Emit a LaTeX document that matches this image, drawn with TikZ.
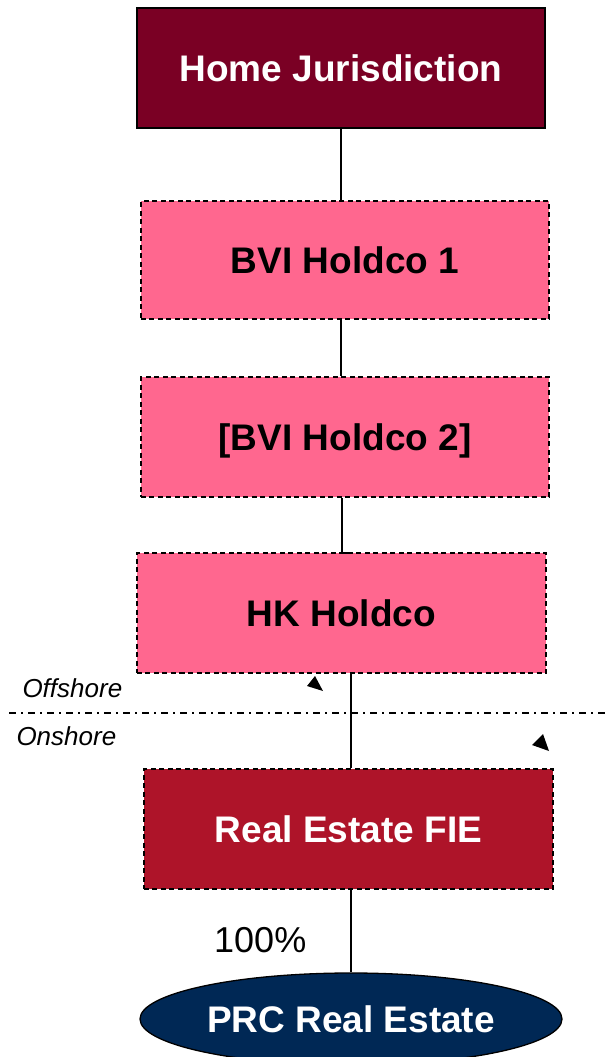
\documentclass[tikz,border=0pt]{standalone}
\usepackage{fontspec}
\setmainfont{Liberation Sans}
\usetikzlibrary{shapes.geometric}

\definecolor{homefill}{RGB}{122,0,36}
\definecolor{holdfill}{RGB}{255,103,143}
\definecolor{fiefill}{RGB}{174,20,41}
\definecolor{prcfill}{RGB}{0,40,85}

\tikzset{
  label font/.style={font=\fontsize{37bp}{44bp}\selectfont\bfseries},
  entity/.style={rectangle, inner sep=0pt, minimum width=409bp, minimum height=120bp,
    label font, text depth=0pt, text height=26.5bp},
  solidbox/.style={entity, draw=black, line width=2.2bp},
  dashbox/.style={entity, draw=black, line width=2bp, dash pattern=on 5bp off 3.5bp},
  link/.style={draw=black, line width=1.5bp},
  zone/.style={anchor=base west, font=\fontsize{26bp}{31bp}\selectfont\itshape},
  marker/.style={fill=black},
}

\begin{document}
\begin{tikzpicture}[x=1bp, y=-1bp]
  \useasboundingbox (0,0) rectangle (608,1057);
  \clip (0,0) rectangle (608,1057);

  % ownership chain
  \node[solidbox, fill=homefill, text=white, minimum width=408bp] (home) at (341,68) {Home Jurisdiction};
  \node[dashbox, fill=holdfill, minimum width=408bp, minimum height=118bp] (bvi1) at (345,260) {BVI Holdco 1};
  \node[dashbox, fill=holdfill, minimum width=408bp] (bvi2) at (345,437) {[BVI Holdco 2]};
  \node[dashbox, fill=holdfill] (hk) at (341.5,613) {HK Holdco};
  \node[dashbox, fill=fiefill, text=white] (fie) at (348.5,829) {Real Estate FIE};
  \node[ellipse, draw=black, line width=1.3bp, fill=prcfill, text=white, inner sep=0pt,
        minimum width=422bp, minimum height=92bp, label font,
        text depth=0pt, text height=26.5bp] (prc) at (351,1019) {PRC Real Estate};

  % connectors
  \draw[link] (home.south) -- (home.south |- bvi1.north);
  \draw[link] (home.south |- bvi1.south) -- (home.south |- bvi2.north);
  \coordinate (jog) at ([xshift=10bp, yshift=-1bp]hk.north);
  \draw[link] ([xshift=0.5bp]hk.north |- bvi2.south) |- (jog);
  \draw[link] (prc.north |- hk.south) -- (prc.north |- fie.north);
  \draw[link] (prc.north |- fie.south) -- (prc.north);

  % offshore / onshore boundary
  \coordinate (bl) at (9,713);
  \coordinate (br) at (608,713);
  \draw[line width=1.5bp, dash pattern=on 7bp off 5bp on 2bp off 5bp] (bl) -- (br);
  \node[zone] (off) at (19,697) {Offshore};
  \node[zone] (on) at (13,745) {Onshore};

  % small arrowhead marks
  \fill[marker] (315,676) -- (307,686) -- (323,691) -- cycle;
  \fill[marker] (543,734) -- (532,745) -- (549,751) -- cycle;

  % share label
  \node[anchor=base west, inner sep=0pt, font=\fontsize{36bp}{43bp}\selectfont] (pct) at (214,952) {100\%};
\end{tikzpicture}
\end{document}
